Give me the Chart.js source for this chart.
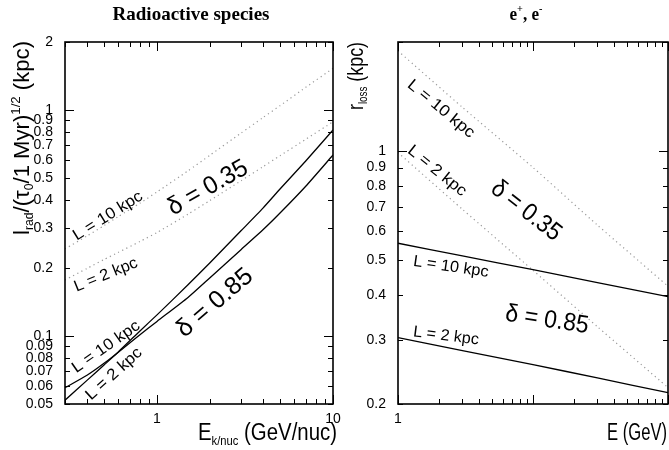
<!DOCTYPE html>
<html>
<head>
<meta charset="utf-8">
<script src="https://cdn.jsdelivr.net/npm/chart.js@4.4.0/dist/chart.umd.min.js"></script>
<style>
  html, body { margin: 0; padding: 0; background: #fff; }
  #wrap { position: relative; width: 669px; height: 450px; overflow: hidden; }
  canvas { position: absolute; top: 0; }
  #left { left: 0; }
  #right { left: 335px; }
</style>
</head>
<body>
<div id="wrap">
  <canvas id="left" width="345" height="450"></canvas>
  <canvas id="right" width="334" height="450"></canvas>
</div>
<script>
// ---- data ----
// left panel: radioactive species, l_rad vs E_k/nuc
const radEnergy  = [0.3, 0.4, 0.5, 0.6, 0.8, 1, 1.5, 2, 3, 4, 5, 7, 10];
const radL10d085 = [0.059, 0.067, 0.0757, 0.0848, 0.1053, 0.124, 0.1685, 0.211, 0.292, 0.368, 0.447, 0.595, 0.816];
const radL2d085  = [0.052, 0.0636, 0.0744, 0.0844, 0.1013, 0.116, 0.148, 0.181, 0.241, 0.295, 0.350, 0.46, 0.632];
const radL10d035 = [0.243, 0.277, 0.308, 0.337, 0.387, 0.434, 0.538, 0.631, 0.79, 0.926, 1.045, 1.26, 1.53];
const radL2d035  = [0.177, 0.199, 0.218, 0.234, 0.262, 0.287, 0.346, 0.398, 0.486, 0.561, 0.628, 0.742, 0.887];

// right panel: e+, e-, r_loss vs E
const lepEnergy  = [1, 3, 10, 30, 100];
const lepL10d085 = [0.556, 0.513, 0.47, 0.433, 0.396];
const lepL2d085  = [0.305, 0.281, 0.257, 0.236, 0.215];
const lepL10d035 = [1.89, 1.32, 0.90, 0.624, 0.423];
const lepL2d035  = [0.99, 0.69, 0.468, 0.327, 0.222];

// ticks
const radXTicks  = [0.3, 0.4, 0.5, 0.6, 0.7, 0.8, 0.9, 1, 2, 3, 4, 5, 6, 7, 8, 9, 10];
const radXLabels = [1, 10];
const radYTicks  = [0.05, 0.06, 0.07, 0.08, 0.09, 0.1, 0.2, 0.3, 0.4, 0.5, 0.6, 0.7, 0.8, 0.9, 1, 2];
const radYLabels = [0.05, 0.06, 0.07, 0.08, 0.09, 0.1, 0.2, 0.3, 0.4, 0.5, 0.6, 0.7, 0.8, 0.9, 1, 2];
const lepXTicks  = [1, 2, 3, 4, 5, 6, 7, 8, 9, 10, 20, 30, 40, 50, 60, 70, 80, 90, 100];
const lepXLabels = [1];
const lepYTicks  = [0.2, 0.3, 0.4, 0.5, 0.6, 0.7, 0.8, 0.9, 1, 2];
const lepYLabels = [0.2, 0.3, 0.4, 0.5, 0.6, 0.7, 0.8, 0.9, 1];

const SANS = '"Liberation Sans", Arial, sans-serif';
const SERIF = '"Liberation Serif", "Times New Roman", serif';
const NARROW = 0.76;   // the original uses a tall, narrow Helvetica

function pts(xs, ys) { return xs.map((x, i) => ({ x: x, y: ys[i] })); }

function solid(xs, ys) {
  return { data: pts(xs, ys), showLine: true, borderColor: '#000', borderWidth: 1.3,
           pointRadius: 0, tension: 0.2, fill: false };
}
function dotted(xs, ys) {
  return { data: pts(xs, ys), showLine: true, borderColor: '#999', borderWidth: 1.2,
           borderDash: [1.2, 3.4], pointRadius: 0, tension: 0.2, fill: false };
}

// rich text: parts = [[text, 'sub'|'sup'|undefined], ...]
function partSize(p, size) { return p[1] === 'sub' ? size * 0.55 : p[1] === 'sup' ? size * 0.6 : size; }
function richWidth(ctx, parts, size, family, weight) {
  let w = 0;
  parts.forEach(p => {
    ctx.font = weight + ' ' + partSize(p, size) + 'px ' + family;
    w += ctx.measureText(p[0]).width;
  });
  return w;
}
// draws text with its baseline at (x, y); width: target width, 'natural', or null -> NARROW
function drawRich(ctx, parts, x, y, size, family, weight, align, width, baseline) {
  const nat = richWidth(ctx, parts, size, family, weight);
  const k = width === 'natural' ? 1 : width ? width / nat : NARROW;
  const w = nat * k;
  ctx.save();
  ctx.translate(x, y);
  ctx.scale(k, 1);
  let cx = (align === 'right' ? -w : align === 'center' ? -w / 2 : 0) / k;
  ctx.textAlign = 'left';
  ctx.textBaseline = baseline || 'alphabetic';
  parts.forEach(p => {
    const dy = p[1] === 'sub' ? size * 0.2 : p[1] === 'sup' ? -size * 0.42 : 0;
    ctx.font = weight + ' ' + partSize(p, size) + 'px ' + family;
    ctx.fillText(p[0], cx, dy);
    cx += ctx.measureText(p[0]).width;
  });
  ctx.restore();
}

const framePlugin = {
  id: 'frame',
  afterDraw(chart, args, o) {
    const ctx = chart.ctx, a = chart.chartArea;
    const sx = chart.scales.x, sy = chart.scales.y;
    ctx.save();
    ctx.strokeStyle = '#000';
    ctx.fillStyle = '#000';
    ctx.lineWidth = 1.6;
    ctx.strokeRect(a.left, a.top, a.right - a.left, a.bottom - a.top);
    ctx.lineWidth = 1;
    const isMajor = v => Math.abs(Math.log10(v) - Math.round(Math.log10(v))) < 1e-9;
    ctx.beginPath();
    o.xTicks.forEach(v => {
      const px = Math.round(sx.getPixelForValue(v)) + 0.5;
      const len = isMajor(v) ? 9 : 5;
      ctx.moveTo(px, a.bottom); ctx.lineTo(px, a.bottom - len);
      ctx.moveTo(px, a.top); ctx.lineTo(px, a.top + len);
    });
    o.yTicks.forEach(v => {
      const py = Math.round(sy.getPixelForValue(v)) + 0.5;
      const len = isMajor(v) ? 9 : 5;
      ctx.moveTo(a.left, py); ctx.lineTo(a.left + len, py);
      ctx.moveTo(a.right, py); ctx.lineTo(a.right - len, py);
    });
    ctx.stroke();

    // tick labels, placed through the scales
    o.xLabels.forEach(v => {
      drawRich(ctx, [[String(v)]], sx.getPixelForValue(v), 419, 14, SANS, 'normal', 'center', 'natural', 'middle');
    });
    o.yLabels.forEach(v => {
      drawRich(ctx, [[String(v)]], a.left - 12, sy.getPixelForValue(v), 14, SANS, 'normal', 'right', 'natural', 'middle');
    });

    // panel title
    drawRich(ctx, o.title, o.titleX, 20, 19, SERIF, 'bold', 'center', o.titleW);
    // x axis title
    drawRich(ctx, o.xTitle, o.xTitleX, 440, 23, SANS, 'normal', 'right', o.xTitleW);
    // y axis title (rotated)
    ctx.save();
    ctx.translate(o.yTitleX, o.yTitleY);
    ctx.rotate(-Math.PI / 2);
    drawRich(ctx, o.yTitle, 0, 0, 22, SANS, 'normal', 'center', o.yTitleW);
    ctx.restore();

    // curve annotations
    o.notes.forEach(n => {
      ctx.save();
      ctx.translate(n.x, n.y);
      ctx.rotate(n.a * Math.PI / 180);
      drawRich(ctx, [[n.t]], 0, 0, n.s, SANS, 'normal', 'center', n.w, 'middle');
      ctx.restore();
    });
    ctx.restore();
  }
};

function panel(id, cfg) {
  return new Chart(document.getElementById(id), {
    type: 'scatter',
    data: { datasets: cfg.datasets },
    options: {
      responsive: false,
      animation: false,
      devicePixelRatio: 1,
      layout: { padding: { left: 0, right: cfg.padRight, top: 42, bottom: 0 } },
      plugins: {
        legend: { display: false },
        tooltip: { enabled: false },
        frame: cfg.frame
      },
      scales: {
        x: {
          type: 'logarithmic', min: cfg.xMin, max: cfg.xMax,
          grid: { display: false, drawTicks: false },
          border: { display: false },
          afterBuildTicks: s => { s.ticks = cfg.frame.xTicks.map(v => ({ value: v })); },
          afterFit: s => { s.height = 46; },
          ticks: { display: false }
        },
        y: {
          type: 'logarithmic', min: cfg.yMin, max: cfg.yMax,
          grid: { display: false, drawTicks: false },
          border: { display: false },
          afterBuildTicks: s => { s.ticks = cfg.frame.yTicks.map(v => ({ value: v })); },
          afterFit: s => { s.width = cfg.yWidth; },
          ticks: { display: false }
        }
      }
    },
    plugins: [framePlugin]
  });
}

panel('left', {
  datasets: [
    solid(radEnergy, radL10d085),
    solid(radEnergy, radL2d085),
    dotted(radEnergy, radL10d035),
    dotted(radEnergy, radL2d035)
  ],
  xMin: 0.3, xMax: 10, yMin: 0.05, yMax: 2,
  yWidth: 65, padRight: 12,
  frame: {
    xTicks: radXTicks, yTicks: radYTicks, xLabels: radXLabels, yLabels: radYLabels,
    title: [['Radioactive species']], titleX: 191, titleW: 157,
    xTitle: [['E'], ['k/nuc', 'sub'], [' (GeV/nuc)']], xTitleX: 337, xTitleW: 139,
    yTitle: [['l'], ['rad', 'sub'], ['/(\u03c4'], ['0', 'sub'], ['/1 Myr)'], ['1/2', 'sup'], [' (kpc)']],
    yTitleX: 29, yTitleY: 138, yTitleW: 194,
    notes: [
      { t: '\u03b4 = 0.35', x: 208, y: 188, a: -29.5, s: 25, w: 88 },
      { t: '\u03b4 = 0.85', x: 215, y: 303, a: -40.6, s: 25, w: 92 },
      { t: 'L = 10 kpc', x: 108, y: 216, a: -32, s: 16, w: 79 },
      { t: 'L = 2 kpc', x: 106, y: 275, a: -22, s: 16, w: 67 },
      { t: 'L = 10 kpc', x: 106, y: 347, a: -35, s: 16, w: 79 },
      { t: 'L = 2 kpc', x: 114, y: 374, a: -42, s: 16, w: 70 }
    ]
  }
});

panel('right', {
  datasets: [
    solid(lepEnergy, lepL10d085),
    solid(lepEnergy, lepL2d085),
    dotted(lepEnergy, lepL10d035),
    dotted(lepEnergy, lepL2d035)
  ],
  xMin: 1, xMax: 100, yMin: 0.2, yMax: 2,
  yWidth: 63, padRight: 1,
  frame: {
    xTicks: lepXTicks, yTicks: lepYTicks, xLabels: lepXLabels, yLabels: lepYLabels,
    title: [['e'], ['+', 'sup'], [', e'], ['-', 'sup']], titleX: 191, titleW: 33,
    xTitle: [['E (GeV)']], xTitleX: 332, xTitleW: 60,
    yTitle: [['r'], ['loss', 'sub'], [' (kpc)']],
    yTitleX: 28, yTitleY: 76, yTitleW: 68,
    notes: [
      { t: 'L = 10 kpc', x: 106, y: 109, a: 39.5, s: 16, w: 82 },
      { t: 'L = 2 kpc', x: 102, y: 171, a: 39, s: 16, w: 71 },
      { t: '\u03b4 = 0.35', x: 191, y: 211, a: 38, s: 25, w: 82 },
      { t: 'L = 10 kpc', x: 116, y: 267, a: 8.3, s: 16, w: 76 },
      { t: '\u03b4 = 0.85', x: 212, y: 320, a: 8.6, s: 25, w: 84 },
      { t: 'L = 2 kpc', x: 111, y: 336, a: 7.3, s: 16, w: 66 }
    ]
  }
});
</script>
</body>
</html>
